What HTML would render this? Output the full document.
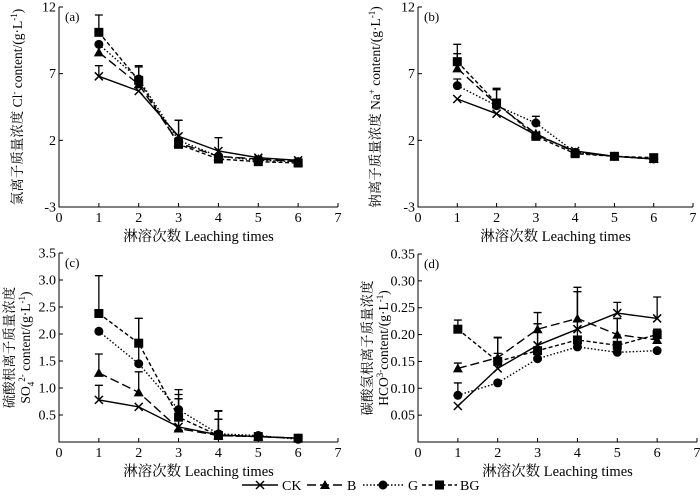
<!DOCTYPE html>
<html><head><meta charset="utf-8">
<style>
html,body{margin:0;padding:0;background:#fff;}
svg, svg text{font-family:"Liberation Serif","Times New Roman","Noto Serif CJK SC",serif;}
</style></head>
<body>
<svg id="chart" width="700" height="494" viewBox="0 0 700 494" xmlns="http://www.w3.org/2000/svg" font-family="Liberation Serif, Noto Serif CJK SC, serif"></svg>
<script>
const xCats = [1,2,3,4,5,6];
const xTicks = [0,1,2,3,4,5,6,7];
// Panel a: Cl-
const aTicks = [-3,2,7,12];
const aCK = [6.8,5.7,2.3,1.2,0.7,0.5];
const aB  = [8.6,6.2,1.8,0.8,0.6,0.4];
const aG  = [9.2,6.6,2.0,0.8,0.5,0.4];
const aBG = [10.1,6.5,1.7,0.6,0.4,0.3];
const aErrCK = [0.8,0,1.2,1.0,0.1,0.1];
const aErrB  = [0,0,1.7,0,0.1,0.1];
const aErrG  = [0,1.0,0,0,0.1,0.1];
const aErrBG = [1.3,1.0,0,0,0.1,0.1];
// Panel b: Na+
const bTicks = [-3,2,7,12];
const bCK = [5.1,4.0,2.4,1.2,0.8,0.6];
const bB  = [7.4,4.7,2.5,1.1,0.8,0.6];
const bG  = [6.1,4.6,3.3,1.1,0.8,0.6];
const bBG = [7.9,4.8,2.3,1.0,0.8,0.7];
const bErrCK = [0,0,0,0,0,0];
const bErrB  = [1.1,1.1,0,0.1,0,0];
const bErrG  = [0.5,0,0.5,0,0,0];
const bErrBG = [1.3,1.1,0,0.1,0.1,0.1];
// Panel c: SO4 2-
const cTicks = [0.5,1.0,1.5,2.0,2.5,3.0,3.5];
const cCK = [0.78,0.65,0.28,0.13,0.10,0.07];
const cB  = [1.28,0.92,0.25,0.12,0.10,0.07];
const cG  = [2.05,1.45,0.60,0.15,0.12,0.05];
const cBG = [2.38,1.83,0.46,0.12,0.10,0.07];
const cErrCK = [0.27,0,0.52,0.45,0,0];
const cErrB  = [0.35,0.38,0.55,0.30,0,0];
const cErrG  = [0,0.84,0.37,0.42,0,0];
const cErrBG = [0.70,0.46,0.42,0.30,0,0];
// Panel d: HCO3-
const dTicks = [0.05,0.10,0.15,0.20,0.25,0.30,0.35];
const dCK = [0.067,0.137,0.180,0.210,0.240,0.230];
const dB  = [0.137,0.157,0.210,0.230,0.200,0.190];
const dG  = [0.087,0.110,0.155,0.177,0.167,0.170];
const dBG = [0.210,0.150,0.170,0.190,0.180,0.200];
const dErrCK = [0,0.058,0.040,0.070,0.020,0.040];
const dErrB  = [0.010,0.037,0.031,0.058,0.030,0.020];
const dErrG  = [0.023,0,0,0,0,0];
const dErrBG = [0.017,0.015,0.050,0.090,0.050,0.010];

const svg = document.getElementById('chart');
const NS = 'http://www.w3.org/2000/svg';
const FONT = '"Liberation Serif","Noto Serif CJK SC",serif';
function mk(tag, at, parent){const e=document.createElementNS(NS,tag);for(const k in at)e.setAttribute(k,at[k]);if(tag==='text')e.style.fontFamily=FONT;(parent||svg).appendChild(e);return e;}

const styles = {CK:'', B:'9,4', G:'1.5,2', BG:'4,2.5'};

function marker(g, kind, x, y){
  let e;
  if(kind==='CK'){
    e=mk('path',{d:`M${x-4},${y-4}L${x+4},${y+4}M${x-4},${y+4}L${x+4},${y-4}`,stroke:'#000','stroke-width':1.5,fill:'none'},g);
  }else if(kind==='B'){
    e=mk('polygon',{points:`${x},${y-5} ${x+5},${y+4} ${x-5},${y+4}`,fill:'#000'},g);
  }else if(kind==='G'){
    e=mk('circle',{cx:x,cy:y,r:4.5,fill:'#000'},g);
  }else{
    e=mk('rect',{x:x-4.5,y:y-4.5,width:9,height:9,fill:'#000'},g);
  }
  
  
}

function panel(cfg){
  const g = mk('g',{});
  
  
  const X = v => cfg.x0 + (cfg.x7-cfg.x0)*v/7;
  const Y = v => cfg.yB + (cfg.yT-cfg.yB)*(v-cfg.ymin)/(cfg.ymax-cfg.ymin);
  const ax = mk('path',{d:`M${X(0)},${cfg.yT}L${X(0)},${cfg.yB}L${X(7)},${cfg.yB}`,stroke:'#000','stroke-width':1,fill:'none'},g);
  
  
  xTicks.forEach(t=>{
    mk('line',{x1:X(t),x2:X(t),y1:cfg.yB,y2:cfg.yB-4,stroke:'#000'},g);
    const tx = mk('text',{x:X(t),y:cfg.yB+15,'font-size':14,'text-anchor':'middle'},g);
    tx.textContent=t;
    
    
  });
  cfg.yTicks.forEach(t=>{
    mk('line',{x1:X(0),x2:X(0)+4,y1:Y(t),y2:Y(t),stroke:'#000'},g);
    const tx = mk('text',{x:X(0)-3,y:Y(t)+4.5,'font-size':14,'text-anchor':'end'},g);
    tx.textContent = cfg.fmt(t);
    
    
  });
  const xl = mk('text',{x:(X(0)+X(7))/2,y:cfg.yB+34,'font-size':14.5,'text-anchor':'middle'},g);
  xl.textContent='淋溶次数 Leaching times';
  
  
  const pl = mk('text',{x:X(0)+6,y:cfg.yT+14,'font-size':13},g);
  pl.textContent='('+cfg.id+')';
  
  
  const yt = mk('text',{transform:`translate(${cfg.ytx},${(cfg.yT+cfg.yB)/2}) rotate(-90)`,'font-size':13.5,'text-anchor':'middle'},g);
  cfg.ytitle.forEach((line,i)=>{const ts=mk('tspan',{x:0,dy:i?16:0},yt);ts.innerHTML=line;});
  
  
  cfg.series.forEach(s=>{
    const sg = mk('g',{},g);
    
    
    s.err.forEach((e,i)=>{
      if(e<=0) return;
      const x=X(xCats[i]), y1=Y(s.v[i]), y2=Y(s.v[i]+e);
      const eb = mk('path',{d:`M${x},${y1}L${x},${y2}M${x-4},${y2}L${x+4},${y2}`,stroke:'#000','stroke-width':1.3,fill:'none'},sg);
      
      
    });
    const pts = s.v.map((v,i)=>X(xCats[i])+','+Y(v)).join(' ');
    const ln = mk('polyline',{points:pts,fill:'none',stroke:'#000','stroke-width':1.4,'stroke-dasharray':styles[s.k]},sg);
    
    
    s.v.forEach((v,i)=>marker(sg,s.k,X(xCats[i]),Y(v)));
  });
}

const f0 = t=>String(t), f1=t=>t.toFixed(1), f2=t=>t.toFixed(2);
panel({id:'a',x0:59,x7:338,yT:7,yB:207,ymin:-3,ymax:12,yTicks:aTicks,fmt:f0,ytx:22,
  ytitle:['氯离子质量浓度 Cl<tspan font-size="9" dy="-5">-</tspan><tspan dy="5"> content/(g·L</tspan><tspan font-size="9" dy="-5">-1</tspan><tspan dy="5">)</tspan>'],
  series:[{k:'CK',v:aCK,err:aErrCK},{k:'B',v:aB,err:aErrB},{k:'G',v:aG,err:aErrG},{k:'BG',v:aBG,err:aErrBG}]});
panel({id:'b',x0:418,x7:693,yT:7,yB:207,ymin:-3,ymax:12,yTicks:bTicks,fmt:f0,ytx:380,
  ytitle:['钠离子质量浓度 Na<tspan font-size="9" dy="-5">+</tspan><tspan dy="5"> content/(g·L</tspan><tspan font-size="9" dy="-5">-1</tspan><tspan dy="5">)</tspan>'],
  series:[{k:'CK',v:bCK,err:bErrCK},{k:'B',v:bB,err:bErrB},{k:'G',v:bG,err:bErrG},{k:'BG',v:bBG,err:bErrBG}]});
panel({id:'c',x0:59,x7:338,yT:253,yB:442,ymin:0,ymax:3.5,yTicks:cTicks,fmt:f1,ytx:14,
  ytitle:['硫酸根离子质量浓度','SO<tspan font-size="9" dy="4">4</tspan><tspan font-size="9" dy="-9">2-</tspan><tspan dy="5"> content/(g·L</tspan><tspan font-size="9" dy="-5">-1</tspan><tspan dy="5">)</tspan>'],
  series:[{k:'CK',v:cCK,err:cErrCK},{k:'B',v:cB,err:cErrB},{k:'G',v:cG,err:cErrG},{k:'BG',v:cBG,err:cErrBG}]});
panel({id:'d',x0:418,x7:697,yT:254,yB:442,ymin:0,ymax:0.35,yTicks:dTicks,fmt:f2,ytx:372,
  ytitle:['碳酸氢根离子质量浓度','HCO<tspan font-size="9" dy="-5">3-</tspan><tspan dy="5">content/(g·L</tspan><tspan font-size="9" dy="-5">-1</tspan><tspan dy="5">)</tspan>'],
  series:[{k:'CK',v:dCK,err:dErrCK},{k:'B',v:dB,err:dErrB},{k:'G',v:dG,err:dErrG},{k:'BG',v:dBG,err:dErrBG}]});

const legend = [{k:'CK',x1:242,x2:278,tx:282},{k:'B',x1:307,x2:343,tx:347},{k:'G',x1:363,x2:403,tx:408},{k:'BG',x1:422,x2:457,tx:460}];
const lg = mk('g',{});


legend.forEach(l=>{
  const eg = mk('g',{},lg);
  
  
  mk('line',{x1:l.x1,x2:l.x2,y1:485,y2:485,stroke:'#000','stroke-width':1.4,'stroke-dasharray':styles[l.k]},eg);
  marker(eg,l.k,(l.x1+l.x2)/2,485);
  const t = mk('text',{x:l.tx,y:490,'font-size':14},eg);
  t.textContent=l.k;
});
</script>
</body></html>
